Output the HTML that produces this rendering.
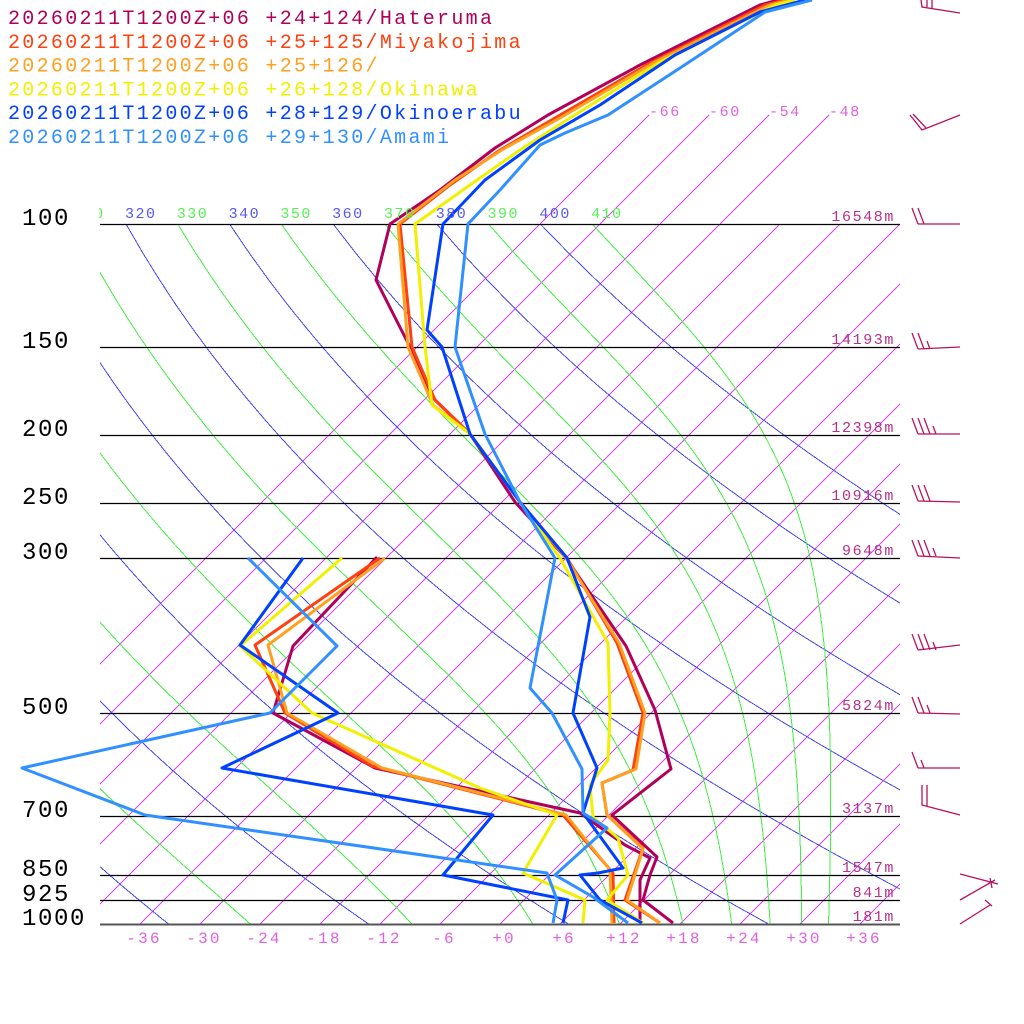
<!DOCTYPE html>
<html><head><meta charset="utf-8"><style>
html,body{margin:0;padding:0;background:#fff;}
svg{display:block;}
text{font-family:"Liberation Mono",monospace;}
</style></head><body>
<svg id="s" width="1024" height="1024" xmlns="http://www.w3.org/2000/svg">
<defs><clipPath id="pc"><rect x="100" y="224" width="800" height="700"/></clipPath>
<clipPath id="pc2"><rect x="0" y="0" width="900" height="924"/></clipPath>
<clipPath id="pc3"><rect x="99" y="0" width="900" height="924"/></clipPath></defs>
<g id="grid" clip-path="url(#pc)" shape-rendering="crispEdges"></g>
<g id="iso2" shape-rendering="crispEdges"></g>
<g id="lev"></g>
<g id="prof" clip-path="url(#pc2)" fill="none" stroke-width="3" stroke-linejoin="round"></g>
<g id="thl" clip-path="url(#pc3)"></g>
<g id="lab"></g>
<g id="barbs" stroke="#b8105e" stroke-width="1.3" fill="none"></g>
</svg>
<script>
var NS="http://www.w3.org/2000/svg";
function el(p,t,a,txt){var e=document.createElementNS(NS,t);for(var k in a)e.setAttribute(k,a[k]);if(txt!=null)e.textContent=txt;document.getElementById(p).appendChild(e);return e;}
function Y(p){return 924-304*Math.log(1000/p);}
function X(T,y){return 500+10*T+(924-y);}
// isotherms
for(var T=-66;T<=60;T+=6){var y1=924,y2=224;el("grid","line",{x1:X(T,y1),y1:y1,x2:X(T,y2),y2:y2,stroke:"#d848f0","stroke-width":1});}
[-66,-60,-54,-48].forEach(function(T){var y1=224,y2=115;el("iso2","line",{x1:X(T,y1),y1:y1,x2:X(T,y2),y2:y2,stroke:"#d848f0","stroke-width":1});
el("lab","text",{x:X(T,y2),y:116,fill:"#e060e0","font-size":15,"letter-spacing":"1.6"},String(T));});
// dry adiabats (blue)
for(var th=200;th<=400;th+=20){var pts=[];for(var p=100;p<=1000;p+=10){var Tc=th*Math.pow(p/1000,0.2857)-273.15;var y=Y(p);pts.push(X(Tc,y).toFixed(1)+","+y.toFixed(1));}
el("grid","polyline",{points:pts.join(" "),fill:"none",stroke:"#4848f0","stroke-width":1});}
// moist adiabats (green)
function moist(T0){var T=T0+273.15,p=1000,pts=[],dT=0;
while(p>=99.9){var Tc=T-273.15;var es=6.112*Math.exp(17.67*Tc/(Tc+243.5));var rs=0.622*es/(p-es);
var y=Y(p);pts.push([X(Tc,y),y]);
dT=(287*T+2.5e6*rs)/(p*(1005+2.5e6*2.5e6*rs*0.622/(287*T*T)));T-=dT*2;p-=2;}
return {pts:pts,T100:T+dT*2};}
for(var te=210;te<=410;te+=20){var lo=-80,hi=45;for(var i=0;i<30;i++){var m=(lo+hi)/2;var r=moist(m);var th=r.T100*Math.pow(10,0.2857);if(th>te)hi=m;else lo=m;}
var r=moist((lo+hi)/2);el("grid","polyline",{points:r.pts.map(function(q){return q[0].toFixed(1)+","+q[1].toFixed(1)}).join(" "),fill:"none",stroke:"#40f040","stroke-width":1});}
// theta labels
for(var th=310;th<=410;th+=10){var Tt=th*Math.pow(0.1,0.2857)-273.15;el("thl","text",{x:X(Tt,224)-1,y:218,fill:((th/10)%2==0)?"#5858f0":"#58f058","font-size":15,"letter-spacing":"1.5"},String(th));}
// levels
var lv=[[100,"16548m"," 100"],[150,"14193m"," 150"],[200,"12398m"," 200"],[250,"10916m"," 250"],[300,"9648m"," 300"],[500,"5824m"," 500"],[700,"3137m"," 700"],[850,"1547m"," 850"],[925,"841m"," 925"],[1000,"181m","1000"]];
lv.forEach(function(l){var y=Math.round(Y(l[0]));el("lev","line",{x1:100,y1:y+0.5,x2:900,y2:y+0.5,stroke:l[0]==1000?"#555":"#000","stroke-width":l[0]==1000?2:1.3});
el("lab","text",{x:895,y:y-3,fill:"#b83088","font-size":15,"letter-spacing":"1.6","text-anchor":"end"},l[1]);
el("lab","text",{x:22,y:y+1,fill:"#000","font-size":24,"letter-spacing":"1.6"},l[2]);});
for(var T=-36;T<=36;T+=6){el("lab","text",{x:500+10*T+4,y:943,fill:"#e060e0","font-size":16,"letter-spacing":"2.2","text-anchor":"middle"},(T>=0?"+":"")+T);}
// legend
var L=[["#b0005a","+24+124/Hateruma"],["#ff4010","+25+125/Miyakojima"],["#ffa020","+25+126/"],["#f0f000","+26+128/Okinawa"],["#0040ff","+28+129/Okinoerabu"],["#3090ff","+29+130/Amami"]];
L.forEach(function(l,i){el("lab","text",{x:8,y:24+i*23.8,fill:l[0],"font-size":20,"letter-spacing":"2.3"},"20260211T1200Z+06 "+l[1]);});
// profiles
var P={
"#b0005a":[[[778,0],[760,5],[640,65],[548,115],[495,148],[440,190],[390,224],[376,280],[410,347],[430,395],[470,434],[515,502],[566,558],[626,646],[655,710],[671,769],[612,815],[657,857],[650,875],[643,900],[673,923]],
 [[377,557],[293,646],[273,713],[375,768],[580,813],[625,845],[650,858],[640,880],[640,923]]],
"#ff4010":[[[785,0],[765,5],[650,63],[555,118],[500,150],[450,185],[400,224],[412,347],[435,400],[470,434],[520,502],[567,558],[617,643],[643,713],[633,770],[602,783],[607,815],[643,848],[625,900],[660,923]],
 [[380,558],[255,645],[285,713],[372,766],[563,815],[613,873],[614,923]]],
"#ffa020":[[[790,0],[770,5],[655,62],[560,118],[505,148],[455,180],[398,224],[408,347],[433,405],[470,434],[520,502],[566,558],[619,643],[645,713],[636,769],[602,783],[607,815],[643,849],[627,900],[660,923]],
 [[385,558],[268,645],[287,713],[382,768],[566,815],[610,870],[612,924]]],
"#f0f000":[[[795,0],[775,5],[660,62],[570,118],[520,150],[470,185],[415,224],[425,347],[432,405],[470,434],[520,502],[560,558],[608,643],[610,713],[608,760],[590,785],[593,817],[618,838],[628,875],[607,900],[643,923]],
 [[342,558],[240,646],[312,713],[480,788],[557,815],[523,873],[585,900],[583,923]]],
"#0040ff":[[[805,0],[760,12],[675,55],[600,105],[540,140],[485,180],[443,224],[427,330],[442,347],[470,434],[520,502],[567,558],[590,617],[573,713],[597,768],[583,813],[623,868],[598,873],[580,875],[600,900],[642,923]],
 [[303,558],[240,645],[338,713],[222,768],[493,815],[443,875],[568,900],[563,923]]],
"#3090ff":[[[812,0],[765,12],[680,68],[608,115],[565,133],[540,145],[500,190],[468,224],[455,347],[485,434],[520,502],[555,558],[530,688],[552,713],[582,769],[583,813],[607,828],[555,875],[593,897],[628,923]],
 [[248,558],[337,646],[270,713],[22,768],[145,815],[547,873],[557,900],[553,923]]]};
for(var c in P){P[c].forEach(function(s){el("prof","polyline",{points:s.map(function(q){return q.join(",")}).join(" "),stroke:c});});}
// barbs
function barb(y,yy,n,half){el("barbs","line",{x1:960,y1:yy,x2:918,y2:y});
for(var i=0;i<n;i++){el("barbs","line",{x1:918+6*i,y1:y,x2:912+6*i,y2:y-16});}
if(half)el("barbs","line",{x1:918+6*n,y1:y,x2:915+6*n,y2:y-8});}
el("barbs","polyline",{points:"960,13 922,7 921,0"});el("barbs","line",{x1:927,y1:7,x2:927,y2:0});el("barbs","line",{x1:932,y1:8,x2:932,y2:0});
el("barbs","polyline",{points:"960,115 922,130 910,115"});el("barbs","line",{x1:926,y1:128,x2:913,y2:114});
barb(224,224,2,false);barb(349,347,2,true);barb(434,434,3,true);barb(501,502,3,false);barb(556,558,3,true);
barb(650,645,3,true);barb(713,714,2,true);barb(768,768,1,true);
el("barbs","polyline",{points:"960,815 922,805 922,785"});el("barbs","line",{x1:927,y1:806,x2:927,y2:785});
el("barbs","line",{x1:960,y1:874,x2:998,y2:884});el("barbs","line",{x1:960,y1:900,x2:995,y2:880});el("barbs","line",{x1:990,y1:878,x2:992,y2:888});
el("barbs","line",{x1:960,y1:924,x2:990,y2:905});el("barbs","line",{x1:985,y1:900,x2:992,y2:906});
</script>
</body></html>
